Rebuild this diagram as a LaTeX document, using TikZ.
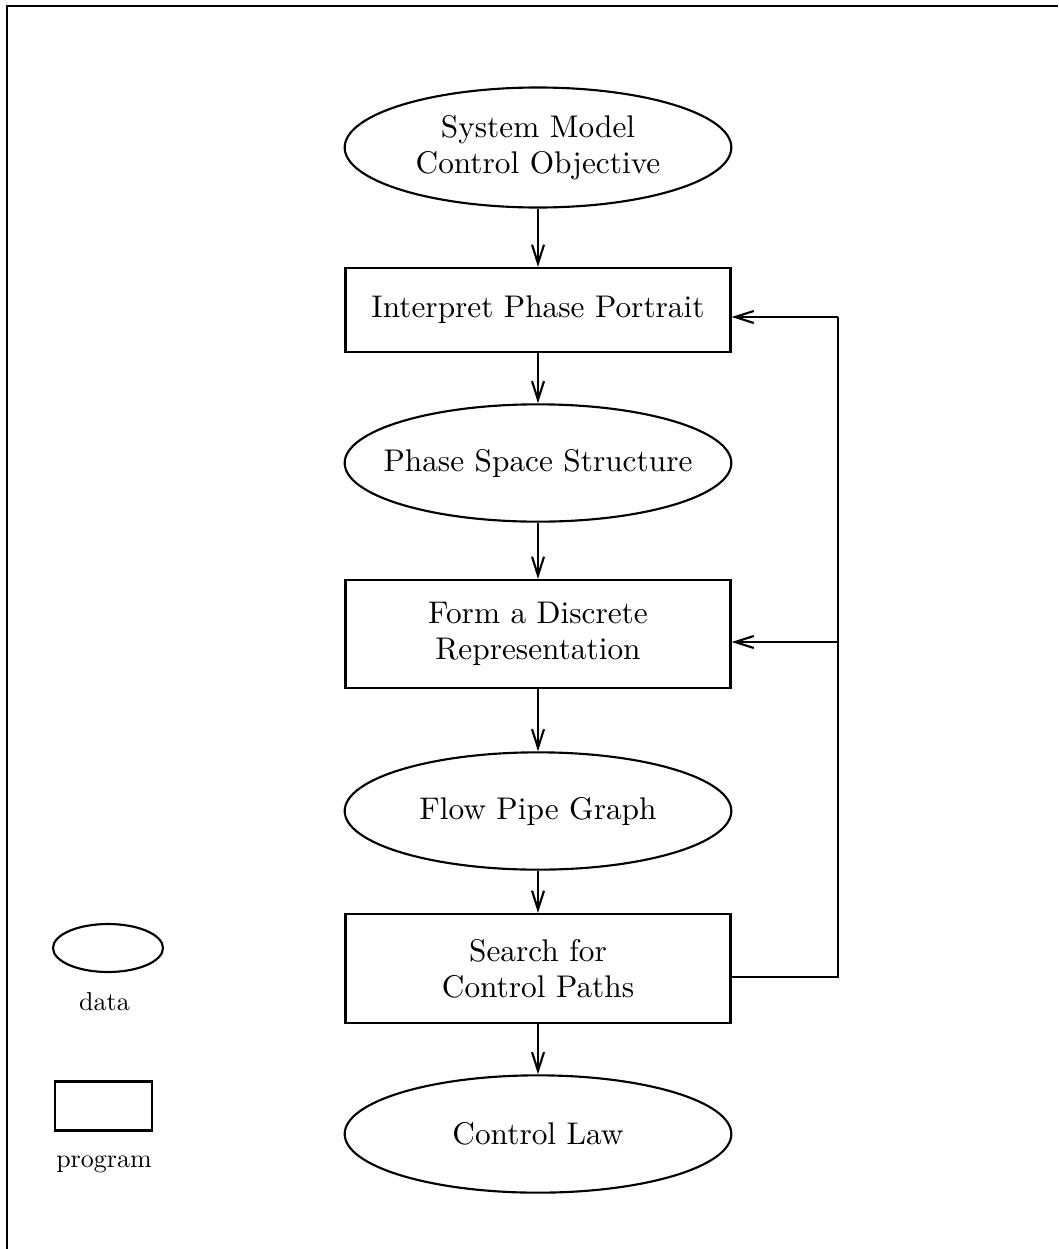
\documentclass[tikz,border=0pt]{standalone}
\usepackage{fontspec}
\newfontfamily\flowfont{lmroman10-regular.otf}
\usetikzlibrary{shapes.geometric,arrows.meta}

\tikzset{every picture/.style={line width=0.75pt}}
\tikzset{
  boxtext/.style={font=\flowfont\fontsize{23.5}{27}\selectfont, align=center},
  datanode/.style={boxtext, draw, ellipse, line width=1.6pt, inner xsep=-20pt, inner ysep=0pt, minimum width=290pt, minimum height=88pt},
  prognode/.style={boxtext, draw, rectangle, line width=1.7pt, inner sep=0pt, minimum width=288.75pt},
  legendtext/.style={font=\flowfont\fontsize{19.5}{23}\selectfont, anchor=base},
  flowarrow/.style={line width=1.6pt, -{Straight Barb[length=14pt,width=9pt,line width=1.6pt]}},
}

\begin{document}
\begin{tikzpicture}[x=0.75pt,y=0.75pt,yscale=-1,xscale=1]
\useasboundingbox (0,0) rectangle (1058,1249);

%Frame
\draw [line width=1.6pt] (1058,6) -- (7,6) -- (7,1249) ;

%Shape: Ellipse
\node [datanode, minimum height=90pt] (sysmodel) at (538,147.5) {System Model\\Control Objective};
%Shape: Rectangle
\node [prognode, minimum height=63pt] (interpret) at (538,310) {Interpret Phase Portrait};
%Shape: Ellipse
\node [datanode] (structure) at (538,463) {Phase Space Structure};
%Shape: Rectangle
\node [prognode, minimum height=81pt] (discrete) at (538,634) {Form a Discrete\\Representation};
%Shape: Ellipse
\node [datanode] (flowpipe) at (538,811) {Flow Pipe Graph};
%Shape: Rectangle
\node [prognode, minimum height=81.75pt] (search) at (538,968.5) {Search for\\Control Paths};
%Shape: Ellipse
\node [datanode] (controllaw) at (538,1134) {Control Law};

%Straight Lines
\draw [flowarrow] (sysmodel) -- (interpret) ;
\draw [flowarrow] (interpret) -- (structure) ;
\draw [flowarrow] (structure) -- (discrete) ;
\draw [flowarrow] (discrete) -- (flowpipe) ;
\draw [flowarrow] (flowpipe) -- (search) ;
\draw [flowarrow] (search) -- (controllaw) ;

%Feedback loop
\coordinate (fbbot) at (838,977) ;
\coordinate (fbmid) at (838,642) ;
\coordinate (fbtop) at (838,317) ;
\draw [line width=1.6pt] (search.east |- fbbot) -- (fbbot) -- (fbtop) ;
\draw [flowarrow] (fbtop) -- (interpret.east |- fbtop) ;
\draw [flowarrow] (fbmid) -- (discrete.east |- fbmid) ;

%Legend
\node [draw, ellipse, line width=1.6pt, minimum width=82.5pt, minimum height=36pt, inner sep=0pt] (legdata) at (108,948) {};
\node [legendtext] (legdatatext) at (104.5,1010) {data};
\node [draw, rectangle, line width=1.7pt, minimum width=72.75pt, minimum height=36.75pt, inner sep=0pt] (legprog) at (103.5,1106) {};
\node [legendtext] (legprogtext) at (104,1167) {program};

\end{tikzpicture}
\end{document}
